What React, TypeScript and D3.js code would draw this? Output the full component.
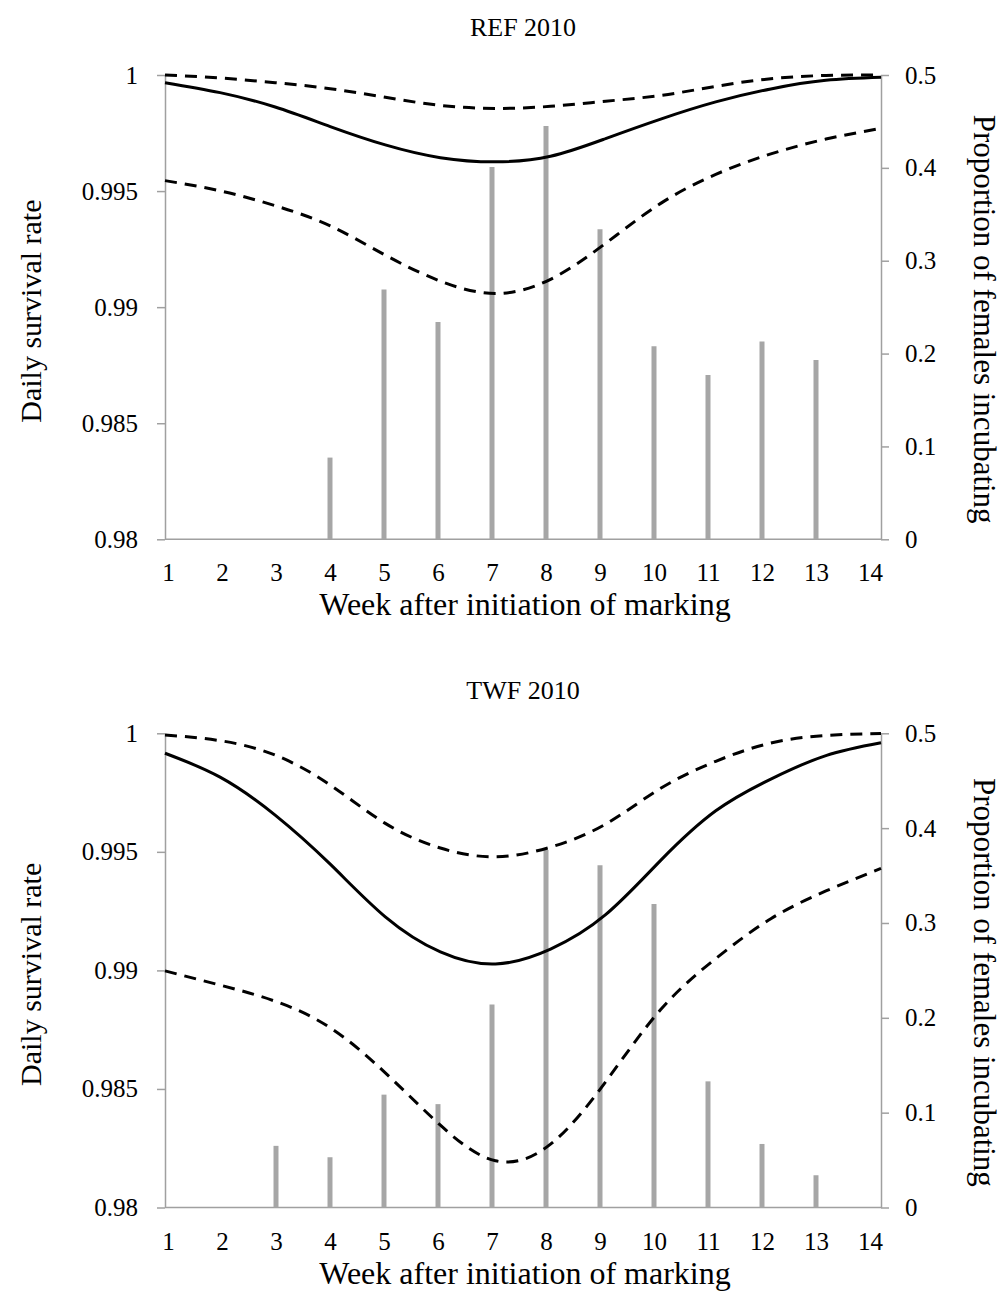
import * as d3 from 'd3';
import { useEffect, useRef } from 'react';

const weeks = [1, 2, 3, 4, 5, 6, 7, 8, 9, 10, 11, 12, 13, 14];
const leftTicks = [0.98, 0.985, 0.99, 0.995, 1];
const leftLabels = ['0.98', '0.985', '0.99', '0.995', '1'];
const rightTicks = [0, 0.1, 0.2, 0.3, 0.4, 0.5];
const rightLabels = ['0', '0.1', '0.2', '0.3', '0.4', '0.5'];

// REF 2010
const refBars = [0, 0, 0, 0.088, 0.269, 0.234, 0.401, 0.445, 0.334, 0.208, 0.177, 0.213, 0.193, 0];
const refDsr = [0.99967, 0.99924, 0.99862, 0.99778, 0.99699, 0.99644, 0.99626, 0.9965, 0.99726, 0.9981, 0.99884, 0.9994, 0.99977, 0.9999];
const refUpper = [1.0, 0.99987, 0.99967, 0.99941, 0.99904, 0.99869, 0.99856, 0.99865, 0.99887, 0.99912, 0.99951, 0.99984, 0.99998, 1.0];
const refLower = [0.99545, 0.99501, 0.99437, 0.9935, 0.99224, 0.99112, 0.99059, 0.9912, 0.99275, 0.99447, 0.99572, 0.9966, 0.99724, 0.9977];

// TWF 2010
const twfBars = [0, 0, 0.065, 0.053, 0.119, 0.109, 0.214, 0.377, 0.361, 0.32, 0.133, 0.067, 0.034, 0];
const twfDsr = [0.99916, 0.99815, 0.99655, 0.99448, 0.99226, 0.99078, 0.99027, 0.9909, 0.99235, 0.99464, 0.99673, 0.99807, 0.99906, 0.9996];
const twfUpper = [0.99993, 0.99969, 0.99908, 0.99782, 0.9962, 0.99516, 0.99479, 0.9952, 0.99617, 0.99768, 0.99882, 0.99959, 0.99991, 0.99999];
const twfLower = [0.98998, 0.98938, 0.9887, 0.98758, 0.98568, 0.98347, 0.98197, 0.98267, 0.9853, 0.98835, 0.9905, 0.99218, 0.99335, 0.9943];

const font = 'Liberation Serif, Times New Roman, serif';
const axisColor = '#a0a0a0';
const barColor = '#a6a6a6';
const left = 165;
const right = 881;

const panels = [
  { title: 'REF 2010', bars: refBars, dsr: refDsr, upper: refUpper, lower: refLower, top: 75, bottom: 539.3, titleY: 36 },
  { title: 'TWF 2010', bars: twfBars, dsr: twfDsr, upper: twfUpper, lower: twfLower, top: 733.3, bottom: 1207.5, titleY: 699 },
];

const drawPanel = (svg, p) => {
  const xBar = d3.scaleLinear([1, 14], [168, 870]);
  const xLine = d3.scaleLinear([1, 14], [left, right]);
  const yL = d3.scaleLinear([0.98, 1], [p.bottom, p.top]);
  const yR = d3.scaleLinear([0, 0.5], [p.bottom, p.top]);
  const g = svg.append('g');

  // left axis
  g.append('g')
    .attr('transform', `translate(${left},0)`)
    .call(d3.axisLeft(yL).tickValues(leftTicks).tickFormat((d, i) => leftLabels[i]).tickSize(8).tickPadding(19).tickSizeOuter(0))
    .call((a) => {
      a.selectAll('.domain').attr('stroke', axisColor).attr('stroke-width', 1.5);
      a.selectAll('.tick line').attr('stroke', axisColor).attr('stroke-width', 1.5);
      a.selectAll('.tick text').attr('font-size', 25).attr('font-family', font).attr('fill', '#000');
    });

  // right axis
  g.append('g')
    .attr('transform', `translate(${right},0)`)
    .call(d3.axisRight(yR).tickValues(rightTicks).tickFormat((d, i) => rightLabels[i]).tickSize(8).tickPadding(16).tickSizeOuter(0))
    .call((a) => {
      a.selectAll('.domain').attr('stroke', axisColor).attr('stroke-width', 1.5);
      a.selectAll('.tick line').attr('stroke', axisColor).attr('stroke-width', 1.5);
      a.selectAll('.tick text').attr('font-size', 25).attr('font-family', font).attr('fill', '#000');
    });

  // bottom axis line + week labels
  g.append('line')
    .attr('x1', left).attr('x2', right)
    .attr('y1', p.bottom).attr('y2', p.bottom)
    .attr('stroke', axisColor).attr('stroke-width', 1.5);
  g.append('g')
    .attr('transform', `translate(0,${p.bottom})`)
    .call(d3.axisBottom(xBar).tickValues(weeks).tickFormat(d3.format('d')).tickSize(0))
    .call((a) => {
      a.selectAll('.domain').remove();
      a.selectAll('.tick text').attr('font-size', 25).attr('font-family', font).attr('fill', '#000')
        .attr('y', 42).attr('dy', 0);
    });

  // bars
  g.append('g')
    .selectAll('line')
    .data(weeks.filter((w, i) => p.bars[i] > 0))
    .join('line')
    .attr('x1', (w) => xBar(w)).attr('x2', (w) => xBar(w))
    .attr('y1', yR(0)).attr('y2', (w) => yR(p.bars[w - 1]))
    .attr('stroke', barColor).attr('stroke-width', 5);

  // survival curves
  const line = d3.line()
    .x((d, i) => xLine(weeks[i]))
    .y((d) => yL(d))
    .curve(d3.curveNatural);
  [[p.upper, true], [p.lower, true], [p.dsr, false]].forEach(([vals, dashed]) => {
    g.append('path')
      .attr('d', line(vals))
      .attr('fill', 'none')
      .attr('stroke', '#000')
      .attr('stroke-width', 3)
      .attr('stroke-dasharray', dashed ? '12,8' : null);
  });

  // titles
  g.append('text')
    .attr('x', (left + right) / 2).attr('y', p.titleY)
    .attr('text-anchor', 'middle').attr('font-family', font).attr('font-size', 26)
    .text(p.title);
  g.append('text')
    .attr('x', (left + right) / 2 + 2).attr('y', p.bottom + 76)
    .attr('text-anchor', 'middle').attr('font-family', font).attr('font-size', 32)
    .text('Week after initiation of marking');
  const mid = (p.top + p.bottom) / 2;
  g.append('text')
    .attr('transform', `translate(41,${mid + 4}) rotate(-90)`)
    .attr('text-anchor', 'middle').attr('font-family', font).attr('font-size', 30)
    .text('Daily survival rate');
  g.append('text')
    .attr('transform', `translate(974,${mid + 12}) rotate(90)`)
    .attr('text-anchor', 'middle').attr('font-family', font).attr('font-size', 31)
    .text('Proportion of females incubating');
};

const App = () => {
  const svgRef = useRef(null);

  useEffect(() => {
    const svg = d3.select(svgRef.current);
    svg.selectAll('*').remove();
    panels.forEach((p) => drawPanel(svg, p));
  }, []);

  return (
    <svg
      ref={svgRef}
      width={1005}
      height={1291}
      style={{ position: 'absolute', left: 0, top: 0, background: '#fff' }}
    />
  );
};

export default App;
